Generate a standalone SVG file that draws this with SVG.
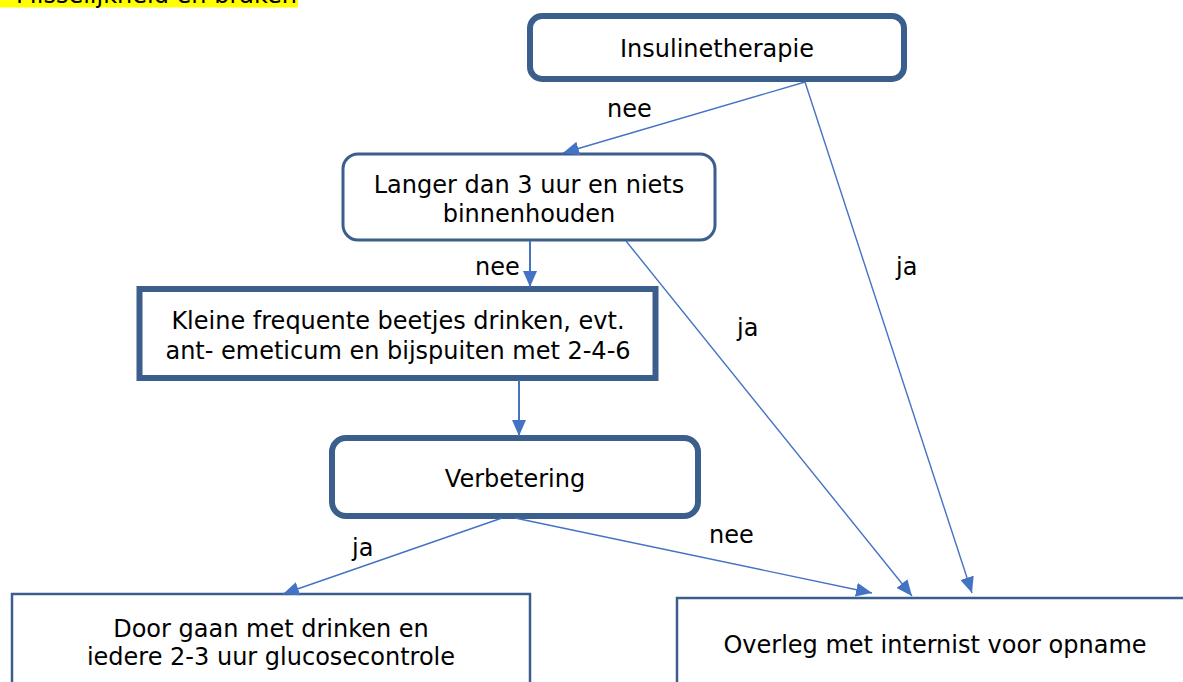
<svg xmlns="http://www.w3.org/2000/svg" width="1183" height="682" viewBox="0 0 1183 682">
  <defs>
    <marker id="arrow" viewBox="0 0 10 10" refX="10" refY="5" markerWidth="10" markerHeight="10" markerUnits="userSpaceOnUse" orient="auto">
      <path d="M0,0 L10,5 L0,10 Z" fill="#4472C4"/>
    </marker>
    <marker id="arrowBig" viewBox="0 0 10 10" refX="10" refY="5" markerWidth="16" markerHeight="14" markerUnits="userSpaceOnUse" orient="auto" preserveAspectRatio="none">
      <path d="M0,0 L10,5 L0,10 Z" fill="#4472C4"/>
    </marker>
  </defs>
  <style>
    text { font-family: "DejaVu Sans", Verdana, sans-serif; font-size: 24px; fill: #000; }
    .c { text-anchor: middle; }
    .box { fill: #fff; stroke: #3B5E8C; }
    .thick { stroke-width: 6; }
    .mid { stroke-width: 3; }
    .thin { stroke-width: 2.5; }
    .edge { fill: none; stroke: #4472C4; stroke-width: 1.4; marker-end: url(#arrowBig); }
    .edge2 { fill: none; stroke: #4472C4; stroke-width: 2; marker-end: url(#arrowBig); }
  </style>

  <!-- heading, cut off at the top edge -->
  <g id="heading">
    <rect x="0" y="0" width="298" height="7.5" fill="#FFFF00"/>
    <text x="297" y="3" text-anchor="end">Misselijkheid en braken</text>
  </g>

  <g id="insuline">
    <rect class="box thick" x="530" y="16" width="374" height="63" rx="12"/>
    <text class="c" x="717" y="57">Insulinetherapie</text>
  </g>

  <g id="langer">
    <rect class="box mid" x="343" y="154" width="372" height="86" rx="15"/>
    <text class="c" x="529" y="193">Langer dan 3 uur en niets</text>
    <text class="c" x="529" y="222">binnenhouden</text>
  </g>

  <g id="kleine">
    <rect class="box thick" x="139.5" y="289" width="516" height="89"/>
    <text class="c" x="398" y="329">Kleine frequente beetjes drinken, evt.</text>
    <text class="c" x="398" y="359">ant- emeticum en bijspuiten met 2-4-6</text>
  </g>

  <g id="verbetering">
    <rect class="box thick" x="332" y="438" width="366" height="78" rx="14"/>
    <text class="c" x="515" y="487">Verbetering</text>
  </g>

  <g id="doorgaan">
    <rect class="box thin" x="12" y="594" width="518" height="100"/>
    <text class="c" x="271" y="637">Door gaan met drinken en</text>
    <text class="c" x="271" y="665">iedere 2-3 uur glucosecontrole</text>
  </g>

  <g id="overleg">
    <rect class="box thin" x="677" y="598" width="520" height="100"/>
    <text class="c" x="935" y="653">Overleg met internist voor opname</text>
  </g>

  <g id="connectors">
    <line class="edge" x1="805" y1="82" x2="563" y2="153"/>
    <text x="607" y="117">nee</text>

    <line class="edge" x1="805" y1="82" x2="972" y2="593"/>
    <text x="896" y="275">ja</text>

    <line class="edge2" x1="530" y1="241" x2="530" y2="287"/>
    <text x="475" y="275">nee</text>

    <line class="edge" x1="626" y1="241" x2="912" y2="596"/>
    <text x="737" y="336">ja</text>

    <line class="edge2" x1="519" y1="380" x2="519" y2="436"/>

    <line class="edge" x1="502" y1="518" x2="283" y2="594"/>
    <text x="352" y="556">ja</text>

    <line class="edge" x1="515" y1="518" x2="872" y2="593"/>
    <text x="709" y="543">nee</text>
  </g>
</svg>
